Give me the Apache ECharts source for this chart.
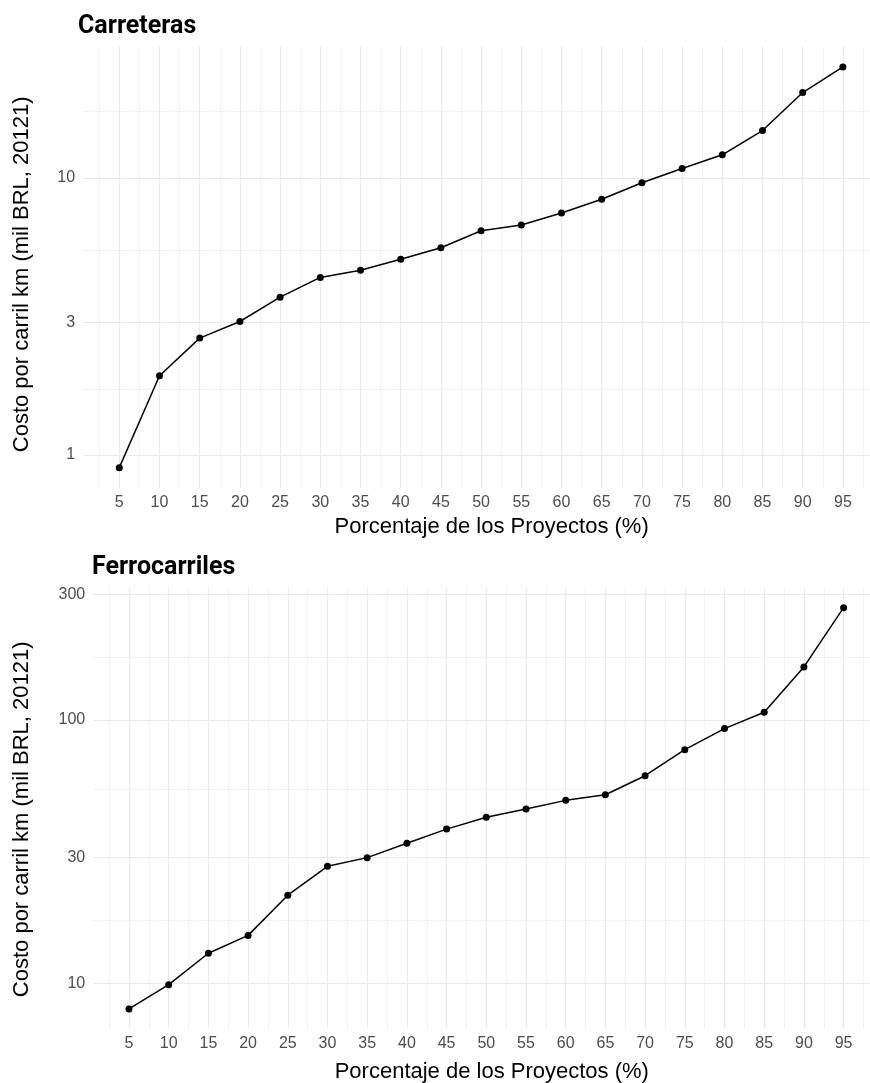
<!DOCTYPE html>
<html>
<head>
<meta charset="utf-8">
<script src="https://cdn.jsdelivr.net/npm/echarts@6/dist/echarts.min.js"></script>
<style>
  html, body { margin: 0; padding: 0; background: #ffffff; }
  #chart { width: 870px; height: 1083px; }
</style>
</head>
<body>
<div id="chart"></div>
<script>
// ---- data ----
const percentiles = [5, 10, 15, 20, 25, 30, 35, 40, 45, 50, 55, 60, 65, 70, 75, 80, 85, 90, 95];
const roadCost = [0.90, 1.93, 2.64, 3.03, 3.71, 4.37, 4.64, 5.08, 5.59, 6.44, 6.75, 7.46, 8.36, 9.59, 10.8, 12.1, 14.8, 20.3, 25.1];
const railCost = [7.99, 9.88, 13.0, 15.2, 21.6, 27.8, 30.0, 34.0, 38.5, 42.7, 45.9, 49.5, 52.0, 61.4, 77.1, 92.7, 107, 159, 267];
const roadTicks = [1, 3, 10];
const roadMinorTicks = [1.732, 5.477, 17.32];
const railTicks = [10, 30, 100, 300];
const railMinorTicks = [17.32, 54.77, 173.2];
const xTickLabels = percentiles.map(String);

const titleRoad = 'Carreteras';
const titleRail = 'Ferrocarriles';
const xTitle = 'Porcentaje de los Proyectos (%)';
const yTitle = 'Costo por carril km (mil BRL, 20121)';

// ---- styling ----
const FONT = 'Liberation Sans, Arial, sans-serif';
const GRID_COLOR = '#ebebeb';
const TICK_COLOR = '#4d4d4d';

function pairs(ys) { return percentiles.map((p, i) => [p, ys[i]]); }

function gridLines(gridIdx, majors, minors, xStart, xEnd) {
  const data = [];
  majors.forEach(v => {
    data.push([
      { coord: [xStart, v], value: v },
      { coord: [xEnd, v] }
    ]);
  });
  minors.forEach(v => {
    data.push([
      { coord: [xStart, v], label: { show: false }, lineStyle: { width: 0.6 } },
      { coord: [xEnd, v] }
    ]);
  });
  return {
    type: 'line',
    xAxisIndex: gridIdx,
    yAxisIndex: gridIdx,
    data: [],
    z: 1,
    silent: true,
    markLine: {
      z: 1,
      silent: true,
      symbol: ['none', 'none'],
      animation: false,
      lineStyle: { type: 'solid', color: GRID_COLOR, width: 1.2 },
      label: {
        show: true,
        position: 'start',
        distance: 8,
        color: TICK_COLOR,
        fontSize: 16,
        fontFamily: FONT,
        formatter: p => String(p.value)
      },
      emphasis: { disabled: true },
      data: data
    }
  };
}

function dataSeries(gridIdx, ys) {
  return {
    type: 'line',
    xAxisIndex: gridIdx,
    yAxisIndex: gridIdx,
    data: pairs(ys),
    z: 10,
    symbol: 'circle',
    symbolSize: 7,
    itemStyle: { color: '#000000' },
    lineStyle: { color: '#000000', width: 1.5 },
    emphasis: { disabled: true },
    animation: false
  };
}

function xAxisDef(gridIdx, nameGap, namePad) {
  return {
    gridIndex: gridIdx,
    type: 'value',
    min: 0,
    max: 100,
    interval: 5,
    name: xTitle,
    nameLocation: 'middle',
    nameGap: nameGap,
    nameTextStyle: { fontSize: 22, color: '#000000', fontFamily: FONT, padding: [0, 0, 0, namePad] },
    axisLine: { show: false },
    axisTick: { show: false },
    axisLabel: {
      margin: 7,
      color: TICK_COLOR,
      fontSize: 16,
      fontFamily: FONT,
      showMinLabel: false,
      showMaxLabel: false,
      formatter: v => (xTickLabels.indexOf(String(v)) >= 0 ? String(v) : '')
    },
    splitLine: { show: true, showMinLine: false, showMaxLine: false, lineStyle: { color: GRID_COLOR, width: 1.2 } },
    minorTick: { show: false, splitNumber: 2 },
    minorSplitLine: { show: true, lineStyle: { color: GRID_COLOR, width: 0.6 } }
  };
}

function yAxisDef(gridIdx, min, max, nameGap, nameShift) {
  return {
    gridIndex: gridIdx,
    type: 'log',
    logBase: 10,
    min: min,
    max: max,
    name: yTitle,
    nameLocation: 'middle',
    nameGap: nameGap,
    nameRotate: 90,
    nameTextStyle: { fontSize: 22, color: '#000000', fontFamily: FONT, padding: [0, nameShift, 0, 0] },
    axisLine: { show: false },
    axisTick: { show: false },
    axisLabel: { show: false },
    splitLine: { show: false }
  };
}

const chart = echarts.init(document.getElementById('chart'), null, { renderer: 'canvas' });
chart.setOption({
  backgroundColor: '#ffffff',
  animation: false,
  title: [
    { text: titleRoad, left: 78, top: 14, padding: 0,
      textStyle: { fontFamily: 'Roboto, sans-serif', fontWeight: 'bold', fontSize: 25, color: '#000000' } },
    { text: titleRail, left: 92, top: 555, padding: 0,
      textStyle: { fontFamily: 'Roboto, sans-serif', fontWeight: 'bold', fontSize: 25, color: '#000000' } }
  ],
  grid: [
    { left: 79.1, width: 804, top: 46.7, height: 441.3, outerBoundsMode: 'none', containLabel: false },
    { left: 89.3, width: 794, top: 588.3, height: 440, outerBoundsMode: 'none', containLabel: false }
  ],
  xAxis: [xAxisDef(0, 28, 21), xAxisDef(1, 33, 11)],
  yAxis: [yAxisDef(0, 0.760, 29.7, 46, 14), yAxisDef(1, 6.745, 316.2, 56, 22)],
  series: [
    gridLines(0, roadTicks, roadMinorTicks, 0.5, 100),
    gridLines(1, railTicks, railMinorTicks, 0.5, 100),
    dataSeries(0, roadCost),
    dataSeries(1, railCost)
  ]
});
</script>
</body>
</html>
